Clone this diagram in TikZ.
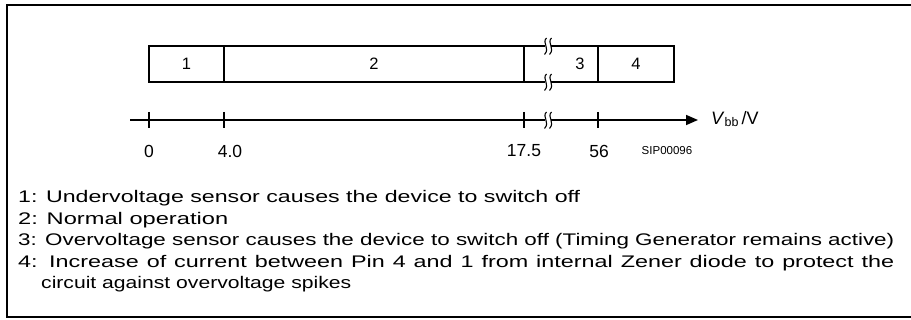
\documentclass[tikz,border=0pt]{standalone}
\usepackage{fontspec}
\setmainfont{Liberation Sans}
\usepackage{graphicx}
\usetikzlibrary{arrows.meta}
\begin{document}
\begin{tikzpicture}[x=1pt,y=-1pt,
  seg/.style={draw,line width=1.6pt,minimum height=36pt,inner sep=0pt,font=\fontsize{16.5}{18}\selectfont},
  tickl/.style={line width=1.4pt},
  axlab/.style={inner sep=0pt,font=\fontsize{17.5}{20}\selectfont},
  leg/.style={inner sep=0pt,anchor=base west,font=\fontsize{16.8}{20}\selectfont},
  brk/.pic={
    \fill[white] (-2.6,-9) rectangle (2.6,9);
    \draw[line width=1.1pt] (-1.5,-8) .. controls (-6.5,-3) and (2.5,2) .. (-3.5,8.5);
    \draw[line width=1.1pt] (3.5,-8) .. controls (-1.5,-3) and (7.5,2) .. (1.5,8.5);
  }]
\useasboundingbox (0,0) rectangle (911,320);
% frame
\coordinate (f1) at (911,5);
\coordinate (f2) at (7,5);
\coordinate (f3) at (7,317);
\coordinate (f4) at (911,317);
\draw[line width=1.3pt] (f1) -- (f2) -- (f3) -- (f4);
% segment bar
\node[seg,minimum width=75pt] (b1) at (186.5,64) {1};
\node[seg,minimum width=300pt] (b2) at (374,64) {2};
\node[seg,minimum width=74pt] (b3) at (561,64) {};
\node[seg,minimum width=76pt] (b4) at (636,64) {4};
\node[inner sep=0pt,font=\fontsize{16.5}{18}\selectfont] (l3) at (580,64) {3};
\pic at (548,46) {brk};
\pic at (548,82) {brk};
% axis
\coordinate (a0) at (130,120);
\coordinate (a1) at (698,120);
\draw[line width=1.6pt,-{Triangle[length=12pt,width=10pt]}] (a0) -- (a1);
\foreach \n/\x in {t0/149,t1/224,t2/524,t3/598}{
  \coordinate (\n u) at (\x,112);
  \coordinate (\n d) at (\x,128);
  \draw[tickl] (\n u) -- (\n d);
}
\pic at (548,120) {brk};
\node[axlab] (v0) at (149,151) {0};
\node[axlab] (v1) at (230,151) {4.0};
\node[axlab] (v2) at (524,151) {17.5};
\node[axlab] (v3) at (599,151) {56};
\node[inner sep=0pt,font=\fontsize{11.5}{13}\selectfont] (sip) at (667,151) {SIP00096};
\node[inner sep=0pt,anchor=west,font=\fontsize{18}{20}\selectfont] (vbb) at (711,119) {\textit{V}\raisebox{-2.5pt}{\fontsize{12.5}{14}\selectfont bb}\hspace{3pt}/V};
% legend
\node[leg] (g1) at (18,203) {\resizebox{562pt}{\height}{1: Undervoltage sensor causes the device to switch off}};
\node[leg] (g2) at (18,224.5) {\resizebox{210pt}{\height}{2: Normal operation}};
\node[leg] (g3) at (18,246) {\resizebox{876pt}{\height}{3: Overvoltage sensor causes the device to switch off (Timing Generator remains active)}};
\node[leg] (g4) at (18,267.5) {\resizebox{876pt}{\height}{\makebox[630pt][s]{4: Increase of current between Pin 4 and 1 from internal Zener diode to protect the}}};
\node[leg] (g5) at (41,289) {\resizebox{310pt}{\height}{circuit against overvoltage spikes}};
\end{tikzpicture}
\end{document}
